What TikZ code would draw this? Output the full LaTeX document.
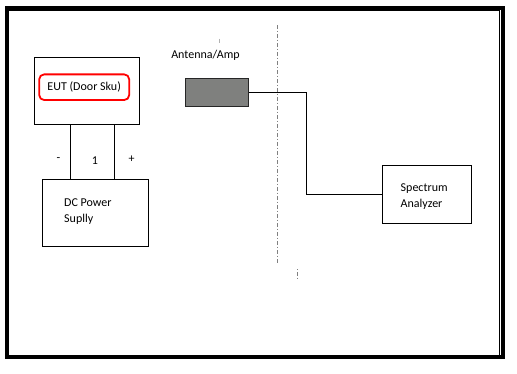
\documentclass[tikz,border=0pt]{standalone}
\usepackage{fontspec}
\setmainfont{Carlito}
\definecolor{ampgray}{HTML}{7F807E}
\definecolor{dashgray}{HTML}{808080}
\begin{document}
\begin{tikzpicture}[x=1pt,y=-1pt,
  box/.style={draw=black,line width=0.9pt,minimum width=#1,inner sep=0pt},
  lbl/.style={font=\fontsize{12}{15.7}\selectfont,inner sep=0pt,align=left},
  wire/.style={draw=black,line width=0.8pt}]
\useasboundingbox (0,0) rectangle (517,373);
% frame
\draw[line width=4pt] (7,7.5) rectangle (503,357);
\draw[line width=0.8pt] (9,10.6) -- (499.6,10.6) -- (499.6,355);
% EUT
\node[box=105.5pt,minimum height=67.7pt] (eut) at (87,91) {};
\node[draw=red,line width=1.8pt,rounded corners=5pt,minimum width=90pt,minimum height=25.7pt,inner sep=0pt,font=\fontsize{12}{14}\selectfont] (eutl) at (84.2,87.2) {EUT (Door Sku)};
% PSU
\node[box=105.7pt,minimum height=67pt] (psu) at (95.2,212.5) {};
\node[lbl,anchor=north west] (psut) at (64,198.5) {DC Power\\Suplly};
% wires EUT-PSU
\draw[wire] ([xshift=37pt]eut.south west) -- ([xshift=37pt]eut.south west |- psu.north);
\draw[wire] ([xshift=80.7pt]eut.south west) -- ([xshift=80.7pt]eut.south west |- psu.north);
\node[lbl] (minus) at (58.5,160) {-};
\node[lbl] (one) at (95,161) {1};
\node[lbl] (plus) at (131.5,159) {+};
% antenna
\node[lbl] (antl) at (205.5,55) {Antenna/Amp};
\draw[gray!60,line width=0.5pt] (219.3,38.5) -- (219.3,42.5);
\node[draw=black!85,fill=ampgray,line width=0.8pt,minimum width=63pt,minimum height=27.6pt,inner sep=0pt] (amp) at (216.8,92.5) {};
% spectrum analyzer
\node[box=89pt,minimum height=58.3pt] (sa) at (427.2,194.2) {};
\node[lbl,anchor=north west] (sat) at (400.5,183.5) {Spectrum\\Analyzer};
% cable
\coordinate (bend) at (306.8,0);
\draw[wire] (amp.east) -| (bend |- sa.west) -- (sa.west);
% dashed boundary
\draw[dashgray,line width=1pt,dash pattern=on 3.5pt off 2pt on 1pt off 2.5pt] (277.3,25) -- (277.3,264);
\draw[dashgray,line width=1pt,dash pattern=on 1pt off 2pt on 3.5pt off 2pt] (297.7,269) -- (297.7,280);
\end{tikzpicture}
\end{document}
